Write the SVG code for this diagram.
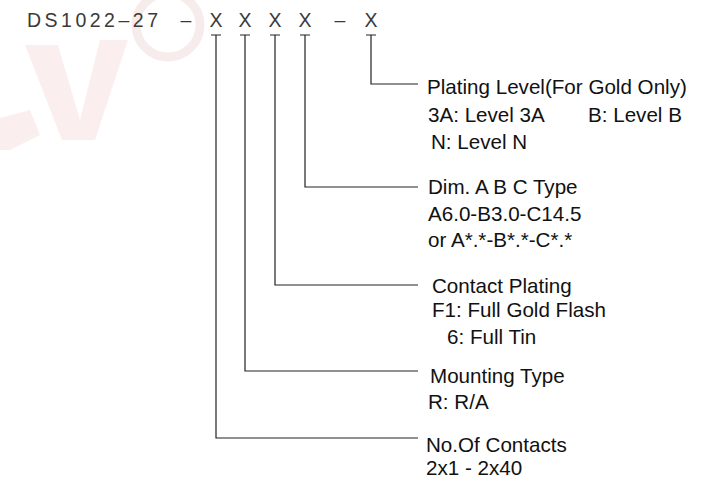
<svg xmlns="http://www.w3.org/2000/svg" width="708" height="485" viewBox="0 0 708 485">
<style>
.hdr{font-family:"Liberation Sans",Arial,sans-serif;font-size:19.5px;fill:#3a3a3a}
.lbl{font-family:"Liberation Sans",Arial,sans-serif;font-size:20.6px;fill:#111}
.ln{stroke:#222;stroke-width:1.2;fill:none}
.wm{fill:#e8a0a0;opacity:0.18}
</style>
<rect width="708" height="485" fill="#ffffff"/>
<g id="watermark">
<polygon class="wm" points="25,45 58,45 80,120 100,40 128,40 95,140 62,140"/>
<polygon class="wm" points="0,118 30,110 40,135 10,150 0,150"/>
<circle cx="168" cy="25" r="32" fill="none" stroke="#d9a8a8" stroke-width="9" opacity="0.22"/>
</g>
<g id="header">
<text class="hdr" x="27" y="27" textLength="131" lengthAdjust="spacing">DS1022–27</text>
<text class="hdr" x="186" y="27" text-anchor="middle">–</text>
<text class="hdr" x="216" y="27" text-anchor="middle">X</text>
<text class="hdr" x="245" y="27" text-anchor="middle">X</text>
<text class="hdr" x="275" y="27" text-anchor="middle">X</text>
<text class="hdr" x="305" y="27" text-anchor="middle">X</text>
<text class="hdr" x="340" y="27" text-anchor="middle">–</text>
<text class="hdr" x="371" y="27" text-anchor="middle">X</text>
</g>
<g id="connectors">
<path class="ln" d="M211,35H221M216,35V438H418"/>
<path class="ln" d="M240,35H250M245,35V371H418"/>
<path class="ln" d="M270,35H280M275,35V285H418"/>
<path class="ln" d="M300,35H310M305,35V187H418"/>
<path class="ln" d="M366,35H376M371,35V84H418"/>
</g>
<g id="plating-level">
<text class="lbl" x="427" y="94">Plating Level(For Gold Only)</text>
<text class="lbl" x="428" y="122">3A: Level 3A</text>
<text class="lbl" x="588" y="122">B:  Level B</text>
<text class="lbl" x="431" y="149">N:  Level N</text>
</g>
<g id="dim-type">
<text class="lbl" x="428" y="194">Dim. A B C Type</text>
<text class="lbl" x="428" y="221">A6.0-B3.0-C14.5</text>
<text class="lbl" x="428" y="247">or A*.*-B*.*-C*.*</text>
</g>
<g id="contact-plating">
<text class="lbl" x="432" y="293">Contact Plating</text>
<text class="lbl" x="432" y="317">F1: Full Gold Flash</text>
<text class="lbl" x="447" y="344">6: Full Tin</text>
</g>
<g id="mounting-type">
<text class="lbl" x="430" y="383">Mounting Type</text>
<text class="lbl" x="428" y="409">R: R/A</text>
</g>
<g id="contacts">
<text class="lbl" x="426" y="452">No.Of Contacts</text>
<text class="lbl" x="426" y="475">2x1 - 2x40</text>
</g>
</svg>
